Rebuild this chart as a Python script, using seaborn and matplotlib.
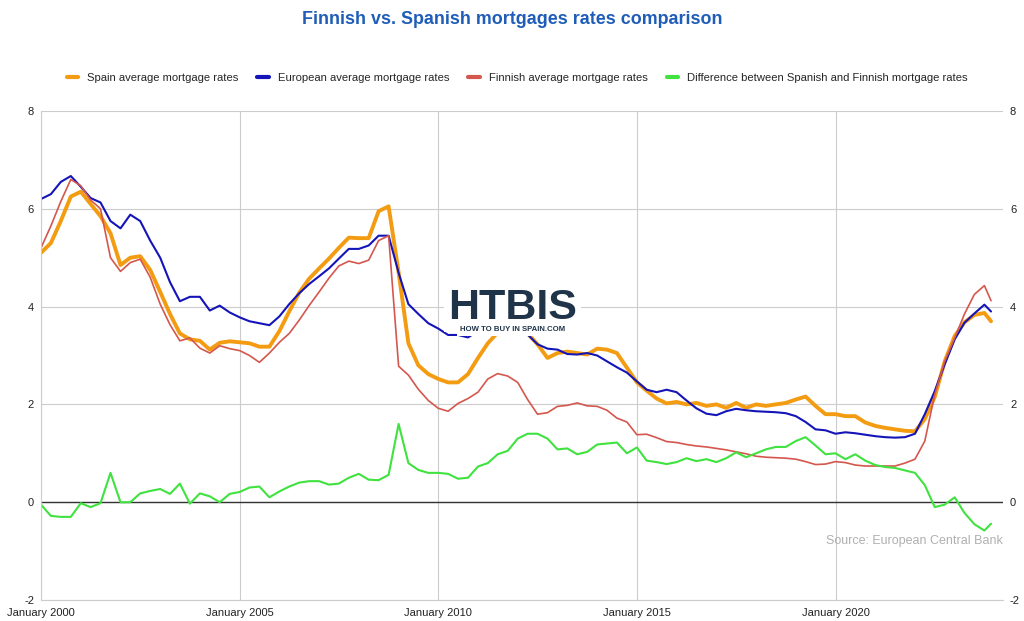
import matplotlib
matplotlib.use('Agg')
from matplotlib import pyplot as plt
import pandas as pd
import seaborn as sns

# quarterly readings (Jan/Apr/Jul/Oct) plus the last month shown
dates = pd.date_range('2000-01-01', '2023-10-01', freq='QS').strftime('%Y-%m').tolist() + ['2023-12']

spain = [5.10, 5.30, 5.75, 6.25, 6.35, 6.10, 5.85, 5.50, 4.85, 5.00, 5.03, 4.75,
         4.30, 3.85, 3.45, 3.33, 3.30, 3.12, 3.26, 3.29, 3.27, 3.25, 3.18, 3.18,
         3.50, 3.90, 4.28, 4.57, 4.78, 4.98, 5.20, 5.41, 5.40, 5.40, 5.95, 6.05,
         4.70, 3.25, 2.80, 2.62, 2.52, 2.45, 2.45, 2.62, 2.95, 3.25, 3.47, 3.65,
         3.60, 3.45, 3.23, 2.95, 3.05, 3.08, 3.05, 3.02, 3.14, 3.12, 3.05, 2.75,
         2.45, 2.28, 2.12, 2.02, 2.05, 2.00, 2.03, 1.97, 2.00, 1.93, 2.03, 1.93,
         2.00, 1.97, 2.00, 2.03, 2.10, 2.16, 1.97, 1.80, 1.80, 1.76, 1.76, 1.63,
         1.56, 1.52, 1.49, 1.46, 1.45, 1.70, 2.15, 2.88, 3.40, 3.68, 3.83, 3.87,
         3.70]

europe = [6.20, 6.30, 6.55, 6.67, 6.45, 6.22, 6.13, 5.75, 5.60, 5.88, 5.75, 5.35,
          5.00, 4.50, 4.11, 4.20, 4.20, 3.92, 4.02, 3.88, 3.78, 3.70, 3.66, 3.62,
          3.80, 4.05, 4.27, 4.46, 4.62, 4.78, 4.98, 5.18, 5.18, 5.25, 5.45, 5.45,
          4.69, 4.05, 3.85, 3.66, 3.55, 3.42, 3.42, 3.37, 3.50, 3.55, 3.60, 3.60,
          3.55, 3.43, 3.23, 3.14, 3.12, 3.03, 3.02, 3.05, 3.00, 2.88, 2.76, 2.65,
          2.47, 2.30, 2.25, 2.30, 2.25, 2.08, 1.92, 1.81, 1.78, 1.86, 1.91, 1.88,
          1.86, 1.85, 1.84, 1.82, 1.76, 1.64, 1.49, 1.47, 1.40, 1.43, 1.41, 1.38,
          1.35, 1.33, 1.32, 1.33, 1.40, 1.80, 2.27, 2.82, 3.33, 3.67, 3.86, 4.04,
          3.90]

finland = [5.20, 5.65, 6.15, 6.60, 6.47, 6.18, 6.00, 5.00, 4.72, 4.90, 4.97, 4.60,
           4.05, 3.63, 3.30, 3.36, 3.15, 3.05, 3.20, 3.14, 3.10, 3.00, 2.86, 3.05,
           3.27, 3.45, 3.72, 4.02, 4.30, 4.58, 4.83, 4.93, 4.88, 4.95, 5.35, 5.45,
           2.78, 2.60, 2.31, 2.08, 1.92, 1.86, 2.02, 2.12, 2.25, 2.52, 2.63, 2.58,
           2.45, 2.10, 1.80, 1.83, 1.96, 1.98, 2.03, 1.97, 1.96, 1.88, 1.72, 1.64,
           1.38, 1.39, 1.32, 1.24, 1.22, 1.18, 1.15, 1.13, 1.10, 1.07, 1.03, 0.99,
           0.94, 0.92, 0.91, 0.90, 0.88, 0.83, 0.77, 0.78, 0.83, 0.81, 0.76, 0.74,
           0.74, 0.74, 0.74, 0.80, 0.88, 1.25, 2.20, 2.88, 3.36, 3.85, 4.25, 4.43,
           4.12]

difference = [-0.05, -0.28, -0.30, -0.30, -0.02, -0.10, -0.02, 0.60, 0.00, 0.00, 0.18, 0.23,
              0.27, 0.17, 0.38, -0.03, 0.18, 0.12, 0.00, 0.17, 0.21, 0.30, 0.32, 0.10,
              0.22, 0.32, 0.40, 0.43, 0.43, 0.36, 0.38, 0.50, 0.58, 0.46, 0.45, 0.56,
              1.60, 0.80, 0.66, 0.60, 0.60, 0.58, 0.48, 0.50, 0.73, 0.80, 0.98, 1.05,
              1.30, 1.40, 1.40, 1.30, 1.08, 1.10, 0.98, 1.03, 1.18, 1.20, 1.22, 1.00,
              1.12, 0.85, 0.82, 0.78, 0.82, 0.90, 0.84, 0.88, 0.82, 0.90, 1.02, 0.92,
              1.00, 1.08, 1.13, 1.13, 1.25, 1.33, 1.16, 0.98, 1.00, 0.88, 0.98, 0.85,
              0.76, 0.72, 0.70, 0.65, 0.60, 0.35, -0.10, -0.05, 0.10, -0.22, -0.45, -0.58,
              -0.44]

series_names = ['Spain average mortgage rates', 'European average mortgage rates',
                'Finnish average mortgage rates', 'Difference between Spanish and Finnish mortgage rates']
colors = ['#f39c12', '#1414b8', '#d4574e', '#3fe23f']
widths = [2.8, 1.5, 1.2, 1.5]

x = pd.to_datetime(dates)

sns.set_style('white')
plt.rcParams['font.family'] = ['Liberation Sans', 'DejaVu Sans']

fig = plt.figure(figsize=(10.24, 6.21), dpi=100)
ax = fig.add_axes([41 / 1024, 21 / 621, 962 / 1024, 489 / 621])

for vals, name, c, lw in zip([spain, europe, finland, difference], series_names, colors, widths):
    sns.lineplot(x=x, y=vals, ax=ax, color=c, linewidth=lw, label=name, legend=False)

ax.axhline(0, color='#333333', linewidth=1, zorder=1)

ax.set_ylim(-2, 8)
ax.set_xlim(pd.Timestamp('2000-01-01'), pd.Timestamp('2024-03-20'))
ax.set_yticks([-2, 0, 2, 4, 6, 8])
ax.set_yticklabels(['-2', '0', '2', '4', '6', '8'])
xt = pd.to_datetime(['2000-01-01', '2005-01-01', '2010-01-01', '2015-01-01', '2020-01-01'])
ax.set_xticks(xt)
ax.set_xticklabels(['January 2000', 'January 2005', 'January 2010', 'January 2015', 'January 2020'])
ax.grid(True, color='#cccccc', linewidth=0.8)
ax.set_axisbelow(True)
ax.tick_params(axis='y', labelleft=True, labelright=True, length=0, pad=5,
               labelsize=8, labelcolor='#222222')
ax.tick_params(axis='x', length=0, pad=6, labelsize=8, labelcolor='#222222')
ax.set_xlabel('')
ax.set_ylabel('')
for side in ['top', 'right']:
    ax.spines[side].set_visible(False)
for side in ['left', 'bottom']:
    ax.spines[side].set_color('#cccccc')
    ax.spines[side].set_linewidth(0.8)

# logo block over the lines
ax.text(0.49, 0.598, 'HTBIS', transform=ax.transAxes, ha='center', va='center',
        fontsize=31, fontweight='bold', color='#1f3349', zorder=5,
        bbox=dict(facecolor='white', edgecolor='none', pad=3))
ax.text(0.49, 0.553, 'HOW TO BUY IN SPAIN.COM', transform=ax.transAxes, ha='center',
        va='center', fontsize=5.6, fontweight='bold', color='#1f3349', zorder=6,
        bbox=dict(facecolor='white', edgecolor='none', pad=2))

ax.text(1.0, 0.12, 'Source: European Central Bank', transform=ax.transAxes,
        ha='right', va='center', fontsize=9, color='#b0b0b0')

fig.text(0.5, 1 - 20 / 621, 'Finnish vs. Spanish mortgages rates comparison',
         ha='center', va='center', fontsize=12.9, fontweight='bold', color='#1f5db8')

handles, labels = ax.get_legend_handles_labels()
leg = fig.legend(handles, labels, loc='center', bbox_to_anchor=(0.505, 1 - 78 / 621),
                 ncol=4, frameon=False, fontsize=8.1, handlelength=1.0,
                 handletextpad=0.8, columnspacing=1.7)
for h in leg.get_lines():
    h.set_linewidth(3)

fig.savefig('out.png', dpi=100, facecolor='white')
